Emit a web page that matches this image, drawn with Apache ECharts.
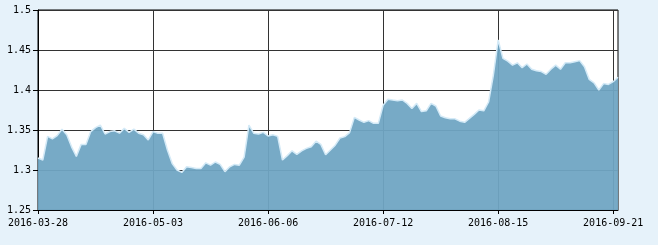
<!DOCTYPE html>
<html>
<head>
<meta charset="utf-8">
<script src="https://cdn.jsdelivr.net/npm/echarts@6/dist/echarts.min.js"></script>
<style>
html,body{margin:0;padding:0;background:#e6f2fa;}
#c{width:658px;height:245px;}
</style>
</head>
<body>
<div id="c"></div>
<script>
const dates = [
'2016-03-28','2016-03-29','2016-03-30','2016-03-31','2016-04-01',
'2016-04-05','2016-04-06','2016-04-07','2016-04-08',
'2016-04-11','2016-04-12','2016-04-13','2016-04-14','2016-04-15',
'2016-04-18','2016-04-19','2016-04-20','2016-04-21','2016-04-22',
'2016-04-25','2016-04-26','2016-04-27','2016-04-28','2016-04-29',
'2016-05-03','2016-05-04','2016-05-05','2016-05-06',
'2016-05-09','2016-05-10','2016-05-11','2016-05-12','2016-05-13',
'2016-05-16','2016-05-17','2016-05-18','2016-05-19','2016-05-20',
'2016-05-23','2016-05-24','2016-05-25','2016-05-26','2016-05-27',
'2016-05-30','2016-05-31','2016-06-01','2016-06-02','2016-06-03',
'2016-06-06','2016-06-07','2016-06-08',
'2016-06-13','2016-06-14','2016-06-15','2016-06-16','2016-06-17',
'2016-06-20','2016-06-21','2016-06-22','2016-06-23','2016-06-24',
'2016-06-27','2016-06-28','2016-06-29','2016-06-30','2016-07-01',
'2016-07-04','2016-07-05','2016-07-06','2016-07-07','2016-07-08',
'2016-07-11','2016-07-12','2016-07-13','2016-07-14','2016-07-15',
'2016-07-18','2016-07-19','2016-07-20','2016-07-21','2016-07-22',
'2016-07-25','2016-07-26','2016-07-27','2016-07-28','2016-07-29',
'2016-08-01','2016-08-02','2016-08-03','2016-08-04','2016-08-05',
'2016-08-08','2016-08-09','2016-08-10','2016-08-11','2016-08-12',
'2016-08-15','2016-08-16','2016-08-17','2016-08-18','2016-08-19',
'2016-08-22','2016-08-23','2016-08-24','2016-08-25','2016-08-26',
'2016-08-29','2016-08-30','2016-08-31','2016-09-01','2016-09-02',
'2016-09-05','2016-09-06','2016-09-07','2016-09-08','2016-09-09',
'2016-09-12','2016-09-13',
'2016-09-19','2016-09-20','2016-09-21','2016-09-22'
];
const values = [
1.315,1.3125,1.342,1.339,1.343,1.351,1.344,1.329,1.317,1.332,
1.332,1.348,1.353,1.356,1.345,1.348,1.349,1.346,1.352,1.347,
1.351,1.346,1.344,1.3375,1.348,1.346,1.346,1.325,1.308,1.300,
1.297,1.304,1.303,1.302,1.302,1.309,1.306,1.310,1.307,1.298,
1.304,1.307,1.306,1.316,1.356,1.346,1.345,1.347,1.3425,1.344,
1.342,1.3125,1.318,1.324,1.3196,1.324,1.327,1.329,1.336,1.332,
1.319,1.325,1.331,1.340,1.3417,1.3467,1.3658,1.3625,1.3596,1.3617,
1.3583,1.3583,1.381,1.3885,1.3875,1.3867,1.3875,1.3833,1.377,1.3833,
1.373,1.374,1.3833,1.380,1.3675,1.3654,1.364,1.364,1.361,1.3596,
1.3646,1.3696,1.375,1.374,1.385,1.41875,1.4625,1.4396,1.436,1.431,
1.434,1.428,1.4325,1.426,1.424,1.423,1.4196,1.426,1.431,1.426,
1.434,1.434,1.4354,1.4367,1.429,1.4133,1.409,1.400,1.408,1.407,
1.4104,1.416
];
const yMin = 1.25, yMax = 1.5, yStep = 0.05;
const labelEvery = 24;

const every = function (idx) { return idx % labelEvery === 0; };
const chart = echarts.init(document.getElementById('c'), null, {renderer:'canvas'});
const font = {fontFamily:'DejaVu Sans Mono', fontSize:10, color:'#000'};
chart.setOption({
  animation:false,
  backgroundColor:'#e6f2fa',
  grid:{left:38, right:40, top:10, bottom:35, show:true, backgroundColor:'#fff', borderColor:'#000', borderWidth:1},
  xAxis:{
    type:'category', data:dates, boundaryGap:false,
    axisLine:{lineStyle:{color:'#000', width:1}},
    axisTick:{show:true, interval:every, length:4, lineStyle:{color:'#000'}},
    axisLabel:Object.assign({interval:every, margin:8, hideOverlap:false}, font),
    splitLine:{show:true, interval:every, lineStyle:{color:'#333', width:1}}
  },
  yAxis:{
    type:'value', min:yMin, max:yMax, interval:yStep,
    axisLine:{show:true, lineStyle:{color:'#000', width:1}},
    axisTick:{show:true, length:5, lineStyle:{color:'#000'}},
    axisLabel:Object.assign({margin:7}, font),
    splitLine:{show:true, lineStyle:{color:'#333', width:1}}
  },
  series:[{
    type:'line', data:values, symbol:'none', smooth:false,
    lineStyle:{color:'#d4eaf7', width:1.5},
    areaStyle:{color:'#70a5c3', opacity:0.95},
    z:3
  }]
});
</script>
</body>
</html>
